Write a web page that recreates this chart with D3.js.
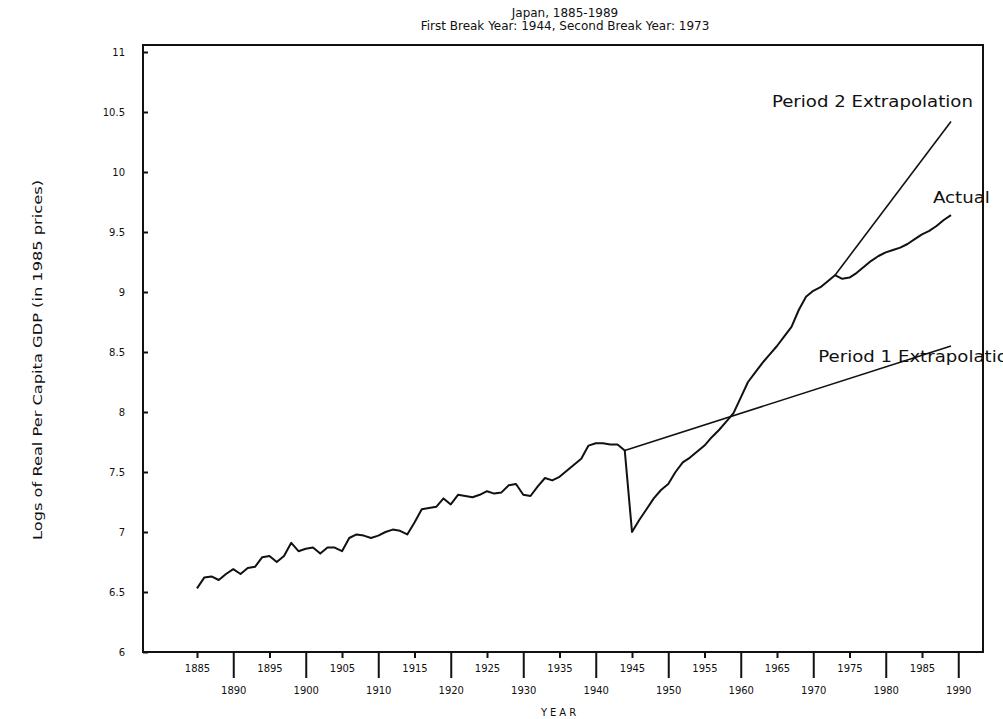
<!DOCTYPE html>
<html>
<head>
<meta charset="utf-8">
<script src="https://cdn.jsdelivr.net/npm/d3@7"></script>
<style>
  body { margin: 0; background: #fff; }
  text { font-family: "DejaVu Sans", sans-serif; fill: #111; }
</style>
</head>
<body>
<div id="chart"></div>
<script>
// Japan, log real per capita GDP, 1885-1989
const years = d3.range(1885, 1990);
const actual = [
  6.53, 6.62, 6.63, 6.60, 6.65, 6.69, 6.65, 6.70, 6.71, 6.79,
  6.80, 6.75, 6.80, 6.91, 6.84, 6.86, 6.87, 6.82, 6.87, 6.87,
  6.84, 6.95, 6.98, 6.97, 6.95, 6.97, 7.00, 7.02, 7.01, 6.98,
  7.08, 7.19, 7.20, 7.21, 7.28, 7.23, 7.31, 7.30, 7.29, 7.31,
  7.34, 7.32, 7.33, 7.39, 7.40, 7.31, 7.30, 7.38, 7.45, 7.43,
  7.46, 7.51, 7.56, 7.61, 7.72, 7.74, 7.74, 7.73, 7.73, 7.68,
  7.00, 7.10, 7.19, 7.28, 7.35, 7.40, 7.50, 7.58, 7.62, 7.67,
  7.72, 7.79, 7.85, 7.92, 7.99, 8.12, 8.25, 8.33, 8.41, 8.48,
  8.55, 8.63, 8.71, 8.85, 8.96, 9.01, 9.04, 9.09, 9.14, 9.11,
  9.12, 9.16, 9.21, 9.26, 9.30, 9.33, 9.35, 9.37, 9.40, 9.44,
  9.48, 9.51, 9.55, 9.60, 9.64
];

// trend lines
const period1Years = [1944, 1989];
const period1Values = [7.68, 8.55];
const period2Years = [1973, 1989];
const period2Values = [9.14, 10.42];

// ticks
const yTicks = [6, 6.5, 7, 7.5, 8, 8.5, 9, 9.5, 10, 10.5, 11];
const xTicksUpper = [1885, 1895, 1905, 1915, 1925, 1935, 1945, 1955, 1965, 1975, 1985];
const xTicksLower = [1890, 1900, 1910, 1920, 1930, 1940, 1950, 1960, 1970, 1980, 1990];

const W = 1003, H = 719;
const frame = { left: 143, right: 983, top: 45, bottom: 652 };

const svg = d3.select("#chart").append("svg")
  .attr("width", W)
  .attr("height", H);

// scales: 1885 sits at x=197, 7.25px per year; 120px per log unit
const x = d3.scaleLinear()
  .domain([1885 - 54 / 7.25, 1885 + (frame.right - 197) / 7.25])
  .range([frame.left, frame.right]);
const y = d3.scaleLinear()
  .domain([6, 6 + (frame.bottom - frame.top) / 120])
  .range([frame.bottom, frame.top]);

// titles
svg.append("text")
  .attr("x", 565).attr("y", 17)
  .attr("text-anchor", "middle")
  .style("font-size", "12px")
  .text("Japan, 1885-1989");
svg.append("text")
  .attr("x", 565).attr("y", 30)
  .attr("text-anchor", "middle")
  .style("font-size", "12px")
  .text("First Break Year: 1944,  Second Break Year: 1973");

// y axis, ticks point inward
const yAxis = svg.append("g")
  .attr("transform", "translate(" + frame.left + ",0)")
  .call(d3.axisLeft(y).tickValues(yTicks).tickSize(-5).tickPadding(18)
    .tickFormat(d3.format("")));
yAxis.select(".domain").remove();
yAxis.selectAll("line").attr("stroke", "#111").attr("stroke-width", 2);
yAxis.selectAll("text")
  .style("font-size", "10px")
  .style("font-family", "DejaVu Sans, sans-serif")
  .attr("fill", "#111");

// x axis, two staggered rows
const xUpper = svg.append("g")
  .attr("transform", "translate(0," + frame.bottom + ")")
  .call(d3.axisBottom(x).tickValues(xTicksUpper).tickSize(6).tickPadding(7)
    .tickFormat(d3.format("d")));
const xLower = svg.append("g")
  .attr("transform", "translate(0," + frame.bottom + ")")
  .call(d3.axisBottom(x).tickValues(xTicksLower).tickSize(26).tickPadding(9)
    .tickFormat(d3.format("d")));
[xUpper, xLower].forEach(function (ax) {
  ax.select(".domain").remove();
  ax.selectAll("line").attr("stroke", "#111").attr("stroke-width", 2);
  ax.selectAll("text")
    .style("font-size", "10px")
    .style("font-family", "DejaVu Sans, sans-serif")
    .attr("fill", "#111");
});

// frame
svg.append("rect")
  .attr("x", frame.left).attr("y", frame.top)
  .attr("width", frame.right - frame.left)
  .attr("height", frame.bottom - frame.top)
  .attr("fill", "none")
  .attr("stroke", "#111")
  .attr("stroke-width", 2);

// axis titles
svg.append("text")
  .attr("x", 560).attr("y", 716)
  .attr("text-anchor", "middle")
  .style("font-size", "10px")
  .style("letter-spacing", "3px")
  .text("YEAR");
svg.append("text")
  .attr("transform", "translate(42,360) rotate(-90)")
  .attr("text-anchor", "middle")
  .attr("textLength", 360)
  .attr("lengthAdjust", "spacingAndGlyphs")
  .style("font-size", "13px")
  .text("Logs of Real Per Capita GDP (in 1985 prices)");

// lines
const line = d3.line()
  .x(function (d) { return x(d[0]); })
  .y(function (d) { return y(d[1]); });

svg.append("path")
  .datum(years.map(function (yr, i) { return [yr, actual[i]]; }))
  .attr("d", line)
  .attr("fill", "none")
  .attr("stroke", "#111")
  .attr("stroke-width", 2)
  .attr("stroke-linejoin", "round");

svg.append("path")
  .datum(period1Years.map(function (yr, i) { return [yr, period1Values[i]]; }))
  .attr("d", line)
  .attr("fill", "none")
  .attr("stroke", "#111")
  .attr("stroke-width", 1.6);

svg.append("path")
  .datum(period2Years.map(function (yr, i) { return [yr, period2Values[i]]; }))
  .attr("d", line)
  .attr("fill", "none")
  .attr("stroke", "#111")
  .attr("stroke-width", 1.6);

// line labels (start year, value, stretched width as in the scan)
const labels = [
  { text: "Period 2 Extrapolation", year: 1964.3, value: 10.54, width: 201 },
  { text: "Actual", year: 1986.5, value: 9.74, width: 57 },
  { text: "Period 1 Extrapolation", year: 1970.7, value: 8.42, width: 201 }
];
svg.selectAll(".lineLabel")
  .data(labels)
  .enter()
  .append("text")
  .attr("class", "lineLabel")
  .attr("x", function (d) { return x(d.year); })
  .attr("y", function (d) { return y(d.value); })
  .attr("textLength", function (d) { return d.width; })
  .attr("lengthAdjust", "spacingAndGlyphs")
  .style("font-size", "15px")
  .text(function (d) { return d.text; });
</script>
</body>
</html>
